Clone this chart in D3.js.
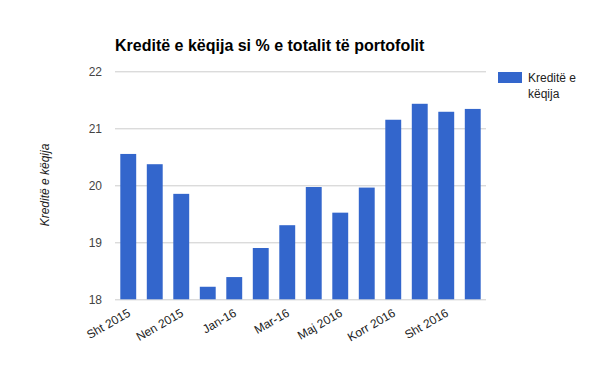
<!doctype html>
<html>
<head>
<meta charset="utf-8">
<title>Kreditë e këqija</title>
<style>
  body { margin: 0; background: #fff; }
  text { font-family: Arial, "Liberation Sans", sans-serif; }
</style>
</head>
<body>
<div id="chart"></div>
<script src="https://d3js.org/d3.v7.min.js"></script>
<script>
  // data
  var months = ["Sht 2015", "Tet 2015", "Nen 2015", "Dhj 2015", "Jan-16", "Shk-16", "Mar-16",
                "Pri 2016", "Maj 2016", "Qer 2016", "Korr 2016", "Gus 2016", "Sht 2016", "Tet 2016"];
  var badLoans = [20.55, 20.37, 19.85, 18.22, 18.39, 18.9, 19.3,
                  19.97, 19.52, 19.96, 21.15, 21.43, 21.29, 21.34];
  var yTicks = [18, 19, 20, 21, 22];
  var shownLabels = ["Sht 2015", "Nen 2015", "Jan-16", "Mar-16", "Maj 2016", "Korr 2016", "Sht 2016"];

  var W = 600, H = 371;
  var margin = {top: 71.3, right: 114, bottom: 71.7, left: 115};
  var width = W - margin.left - margin.right,
      height = H - margin.top - margin.bottom;

  var svg = d3.select("#chart").append("svg")
      .attr("width", W)
      .attr("height", H);

  // title
  svg.append("text")
      .attr("x", 115)
      .attr("y", 51)
      .style("font-size", "16px")
      .style("font-weight", "bold")
      .attr("fill", "#000")
      .text("Kreditë e këqija si % e totalit të portofolit");

  var g = svg.append("g")
      .attr("transform", "translate(" + margin.left + "," + margin.top + ")");

  var x = d3.scaleBand()
      .domain(months)
      .range([0, width])
      .paddingInner(0.4)
      .paddingOuter(0.2);

  var y = d3.scaleLinear()
      .domain([18, 22])
      .range([height, 0]);

  // gridlines
  g.append("g")
    .selectAll("line")
    .data(yTicks)
    .enter()
    .append("line")
      .attr("x1", 0)
      .attr("x2", width)
      .attr("y1", function(d) { return Math.round(y(d)) + 0.5; })
      .attr("y2", function(d) { return Math.round(y(d)) + 0.5; })
      .attr("stroke", "#cccccc")
      .attr("stroke-width", 1);

  // y tick labels
  var yAxis = g.append("g")
      .call(d3.axisLeft(y).tickValues(yTicks).tickSize(0).tickPadding(13).tickFormat(d3.format("d")));
  yAxis.select(".domain").remove();
  yAxis.selectAll("text")
      .style("font-size", "12px")
      .style("font-family", "Arial, 'Liberation Sans', sans-serif")
      .attr("fill", "#444");

  // bars
  g.append("g")
    .selectAll("rect")
    .data(badLoans)
    .enter()
    .append("rect")
      .attr("x", function(d, i) { return x(months[i]); })
      .attr("y", function(d) { return y(d); })
      .attr("width", x.bandwidth())
      .attr("height", function(d) { return height - y(d); })
      .attr("fill", "#3366cc");

  // x labels
  var xAxis = g.append("g")
      .attr("transform", "translate(0," + height + ")")
      .call(d3.axisBottom(x).tickSize(0).tickFormat(function(d) {
        return shownLabels.indexOf(d) >= 0 ? d : "";
      }));
  xAxis.select(".domain").remove();
  xAxis.selectAll("text")
      .style("font-size", "12px")
      .style("font-family", "Arial, 'Liberation Sans', sans-serif")
      .attr("fill", "#222")
      .attr("text-anchor", "end")
      .attr("dy", null)
      .attr("y", 0)
      .attr("transform", "translate(3,16) rotate(-30)");

  // y axis title
  svg.append("text")
      .attr("transform", "translate(49,185) rotate(-90)")
      .attr("text-anchor", "middle")
      .style("font-size", "12px")
      .style("font-style", "italic")
      .attr("fill", "#222")
      .text("Kreditë e këqija");

  // legend
  var legend = svg.append("g");
  legend.append("rect")
      .attr("x", 498)
      .attr("y", 72)
      .attr("width", 24)
      .attr("height", 11)
      .attr("fill", "#3366cc");
  legend.append("text")
      .attr("x", 528)
      .attr("y", 82)
      .style("font-size", "12px")
      .attr("fill", "#222")
      .text("Kreditë e");
  legend.append("text")
      .attr("x", 528)
      .attr("y", 98)
      .style("font-size", "12px")
      .attr("fill", "#222")
      .text("këqija");
</script>
</body>
</html>
